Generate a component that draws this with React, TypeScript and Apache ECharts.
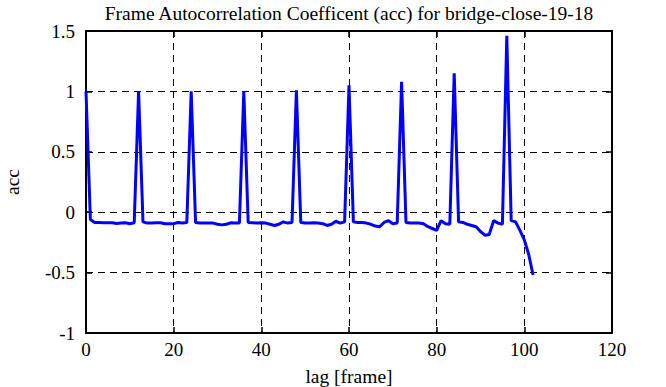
import React, { useEffect, useRef } from "react";
import * as echarts from "echarts";

const chartTitle = "Frame Autocorrelation Coefficent (acc) for bridge-close-19-18";
const xLabel = "lag [frame]";
const yLabel = "acc";

// acc value for lag 0..102
const accValues: number[] = [
  1.0, -0.06, -0.085, -0.085, -0.087, -0.087, -0.087, -0.093, -0.09, -0.087,
  -0.095, -0.087, 1.0, -0.08, -0.09, -0.09, -0.088, -0.088, -0.095, -0.095,
  -0.095, -0.085, -0.09, -0.085, 1.0, -0.085, -0.09, -0.09, -0.09, -0.09,
  -0.1, -0.105, -0.1, -0.088, -0.09, -0.09, 1.0, -0.085, -0.087, -0.09,
  -0.087, -0.09, -0.1, -0.11, -0.1, -0.08, -0.09, -0.085, 1.01, -0.085,
  -0.09, -0.09, -0.087, -0.09, -0.095, -0.11, -0.1, -0.075, -0.09, -0.08,
  1.05, -0.08, -0.085, -0.085, -0.09, -0.1, -0.115, -0.12, -0.085, -0.07,
  -0.095, -0.09, 1.08, -0.085, -0.09, -0.09, -0.09, -0.095, -0.12, -0.135,
  -0.15, -0.07, -0.095, -0.1, 1.15, -0.08, -0.085, -0.1, -0.11, -0.12,
  -0.16, -0.19, -0.185, -0.07, -0.09, -0.1, 1.46, -0.07, -0.08, -0.15,
  -0.23, -0.35, -0.52,
];

const FONT = "Liberation Serif";

export default function App() {
  const ref = useRef<HTMLDivElement>(null);
  useEffect(() => {
    if (!ref.current) return;
    const chart = echarts.init(ref.current, undefined, { renderer: "svg" });
    const black = "#000";
    const axisLine = { show: true, onZero: false, lineStyle: { color: black, width: 2 } };
    const axisTick = { show: true, inside: true, length: 6, lineStyle: { color: black, width: 1.5 } };
    const split = { show: true, lineStyle: { color: black, width: 1, type: [7, 5] as number[] } };
    chart.setOption({
      animation: false,
      backgroundColor: "#fff",
      textStyle: { fontFamily: FONT },
      grid: { left: 86, right: 54, top: 31, bottom: 54, containLabel: false, outerBoundsMode: "none" },
      xAxis: [
        {
          type: "value", min: 0, max: 120, interval: 20, position: "bottom",
          axisLine, axisTick,
          axisLabel: { color: black, fontFamily: FONT, fontSize: 19, margin: 7 },
          splitLine: split,
          name: xLabel, nameLocation: "middle", nameGap: 33,
          nameTextStyle: { color: black, fontFamily: FONT, fontSize: 19.5 },
        },
        {
          type: "value", min: 0, max: 120, interval: 20, position: "top",
          axisLine, axisTick,
          axisLabel: { show: false },
          splitLine: { show: false },
          name: chartTitle, nameLocation: "middle", nameGap: 8,
          nameTextStyle: { color: black, fontFamily: FONT, fontSize: 19.5 },
        },
      ],
      yAxis: [
        {
          type: "value", min: -1, max: 1.5, interval: 0.5, position: "left",
          axisLine, axisTick,
          axisLabel: { color: black, fontFamily: FONT, fontSize: 19, margin: 11 },
          splitLine: split,
          name: yLabel, nameLocation: "middle", nameGap: 64,
          nameTextStyle: { color: black, fontFamily: FONT, fontSize: 19.5 },
        },
        {
          type: "value", min: -1, max: 1.5, interval: 0.5, position: "right",
          axisLine, axisTick,
          axisLabel: { show: false },
          splitLine: { show: false },
        },
      ],
      series: [
        {
          type: "line",
          xAxisIndex: 0,
          yAxisIndex: 0,
          data: accValues.map((v, i) => [i, v]),
          showSymbol: false,
          lineStyle: { color: "#0000ff", width: 3 },
          itemStyle: { color: "#0000ff" },
        },
      ],
    });
    return () => chart.dispose();
  }, []);
  return (
    <div
      ref={ref}
      style={{ position: "fixed", left: 0, top: 0, width: 666, height: 387, background: "#fff" }}
    />
  );
}
